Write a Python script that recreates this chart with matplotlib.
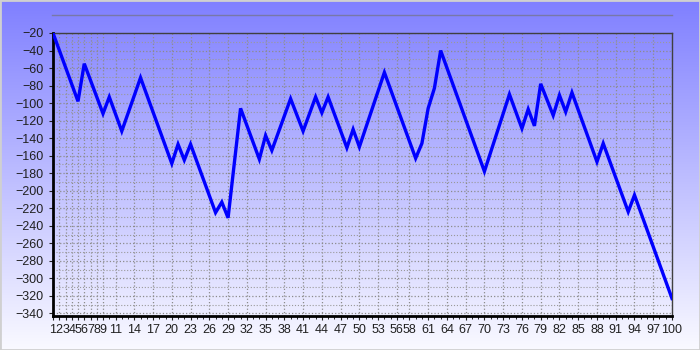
import numpy as np
import matplotlib
matplotlib.use('Agg')
import matplotlib.pyplot as plt
from matplotlib.lines import Line2D
from matplotlib.patches import Rectangle

plt.rcParams['font.family'] = ['Liberation Sans', 'DejaVu Sans']

# turning points of the equity line (trade number, value)
trade = [1, 5, 6, 9, 10, 12, 15, 20, 21, 22, 23, 27, 28, 29, 31, 34, 35, 36, 39,
         41, 43, 44, 45, 48, 49, 50, 54, 59, 60, 61, 62, 63, 70, 74, 76, 77, 78,
         79, 81, 82, 83, 84, 88, 89, 93, 94, 100]
value = [-20, -98, -55, -112, -93, -132, -71, -169, -147, -165, -147, -225, -213,
         -231, -106, -164, -137, -154, -95, -132, -93, -111, -93, -151, -130,
         -150, -65, -163, -146, -106, -83, -40, -178, -90, -129, -107, -126, -78,
         -114, -91, -110, -88, -167, -146, -224, -205, -323]

x_ticks = list(range(1, 10)) + list(range(11, 57, 3)) + list(range(58, 101, 3))
y_ticks = list(range(-340, -19, 20))

fig = plt.figure(figsize=(7, 3.5), dpi=100)

# vertical blue -> white gradient behind everything
bg = fig.add_axes([0, 0, 1, 1], zorder=-10)
grad = np.linspace(0, 1, 256).reshape(-1, 1)
top = np.array([0.50, 0.50, 1.0])
bot = np.array([0.98, 0.98, 1.0])
img = top + (bot - top) * grad[:, :, None]
bg.imshow(img, aspect='auto', extent=[0, 1, 0, 1], origin='upper')
bg.set_axis_off()

ax = fig.add_axes([53 / 700, 1 - 316 / 350, (672 - 53) / 700, (316 - 33) / 350])
ax.patch.set_alpha(0)

ax.plot(trade, value, color='#0000ff', lw=2.4, solid_joinstyle='miter', zorder=3)

ax.set_xlim(1, 100)
ax.set_ylim(-343, -20)
ax.set_xticks(x_ticks)
ax.set_xticks(range(1, 101), minor=True)
ax.set_yticks(y_ticks)
ax.set_yticks(range(-340, -19, 10), minor=True)

ax.grid(True, which='major', axis='both', color='#8c8c8c', ls=':', lw=0.9)
ax.grid(True, which='minor', axis='y', color='#9a9a9a', ls=':', lw=0.8)
ax.tick_params(axis='both', which='major', labelsize=9, colors='#202020', length=3)
ax.tick_params(axis='y', which='minor', length=0)
ax.tick_params(axis='x', which='minor', length=2)
ax.tick_params(axis='x', pad=3)

for s in ['left', 'bottom']:
    ax.spines[s].set_color('black')
    ax.spines[s].set_linewidth(2)
for s in ['top', 'right']:
    ax.spines[s].set_color('#404040')
    ax.spines[s].set_linewidth(1)

# empty title rule and outer frame
fig.add_artist(Line2D([52 / 700, 672 / 700], [1 - 15 / 350, 1 - 15 / 350],
                      color='#7878a8', lw=1))
fig.add_artist(Rectangle((0, 0), 1, 1, transform=fig.transFigure, fill=False,
                         ec='#d0d0d0', lw=2))

fig.savefig('out.png', dpi=100)
